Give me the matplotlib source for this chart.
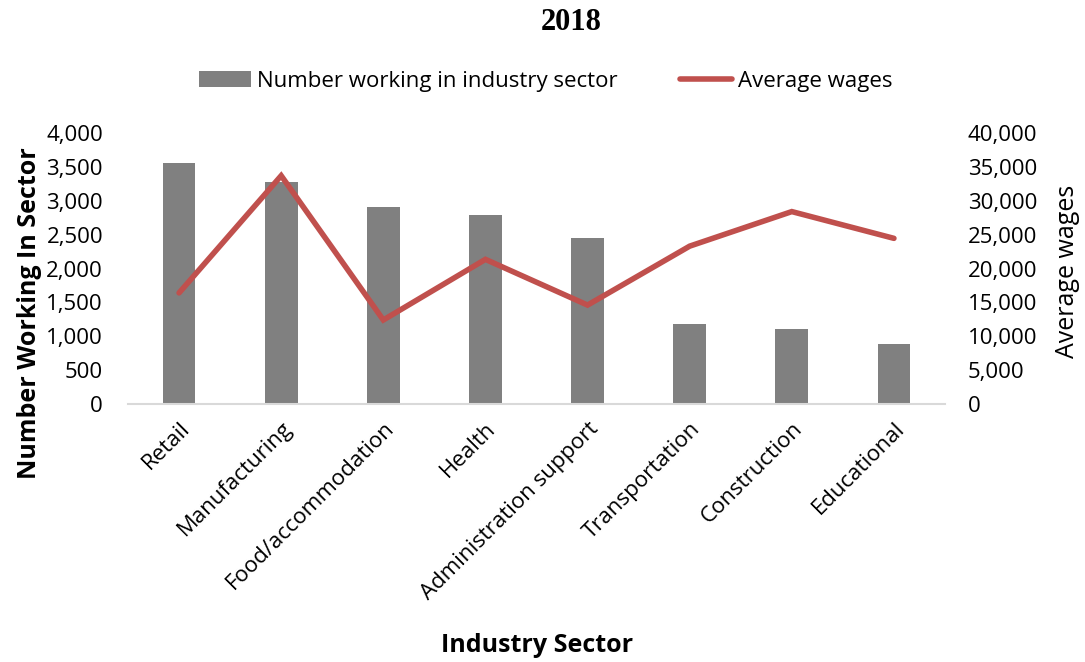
import matplotlib
matplotlib.use("Agg")
import matplotlib.pyplot as plt
from matplotlib.ticker import FuncFormatter
import numpy as np

sectors = ["Retail", "Manufacturing", "Food/accommodation", "Health",
           "Administration support", "Transportation", "Construction", "Educational"]
workers = [3560, 3280, 2910, 2785, 2450, 1175, 1110, 885]
wages = [16400, 33700, 12400, 21350, 14600, 23300, 28400, 24450]

plt.rcParams['font.family'] = ['Open Sans', 'DejaVu Sans']

W, H = 1085, 662
fig = plt.figure(figsize=(W / 100, H / 100), dpi=100)
ax = fig.add_axes([128 / W, 1 - 404 / H, (945 - 128) / W, (404 - 133) / H])
ax2 = ax.twinx()

x = np.arange(len(sectors))
bars = ax.bar(x, workers, width=0.32, color="#808080", label="Number working in industry sector", zorder=2)
line, = ax2.plot(x, wages, color="#C0504D", linewidth=4, solid_capstyle="round",
                 solid_joinstyle="miter", label="Average wages", zorder=3)

ax.set_xlim(-0.5, len(sectors) - 0.5)
ax.set_ylim(0, 4000)
ax2.set_ylim(0, 40000)
ax.set_yticks(np.arange(0, 4001, 500))
ax2.set_yticks(np.arange(0, 40001, 5000))
fmt = FuncFormatter(lambda v, p: f"{int(v):,}")
ax.yaxis.set_major_formatter(fmt)
ax2.yaxis.set_major_formatter(fmt)

for a in (ax, ax2):
    for s in a.spines.values():
        s.set_visible(False)
    a.tick_params(length=0, labelsize=16)
ax.spines['bottom'].set_visible(True)
ax.spines['bottom'].set_color("#D9D9D9")
ax.spines['bottom'].set_linewidth(1.5)
ax.tick_params(axis='y', pad=18)
ax2.tick_params(axis='y', pad=16.5)

ax.set_xticks(x)
ax.set_xticklabels(sectors, rotation=45, ha="right", rotation_mode="anchor", fontsize=16)
ax.tick_params(axis='x', pad=10)

# axis titles placed in figure pixels
fig.text(30 / W, 1 - 313 / H, "Number Working In Sector", rotation=90, ha="center", va="center",
         fontsize=18, fontweight="bold")
fig.text(1067 / W, 1 - 271 / H, "Average wages", rotation=90, ha="center", va="center",
         fontsize=18)
fig.text(537 / W, 1 - 645 / H, "Industry Sector", ha="center", va="center",
         fontsize=18, fontweight="bold")

fig.text(571 / W, 1 - 23 / H, "2018", ha="center", va="center", fontsize=22,
         fontweight="bold", family="Liberation Serif")

fig.legend(handles=[bars, line], loc="center", bbox_to_anchor=(546 / W, 1 - 81 / H),
           ncol=2, frameon=False, fontsize=16, handlelength=2.35, handletextpad=0.27,
           columnspacing=2.8)

fig.savefig("out.png", dpi=100)
